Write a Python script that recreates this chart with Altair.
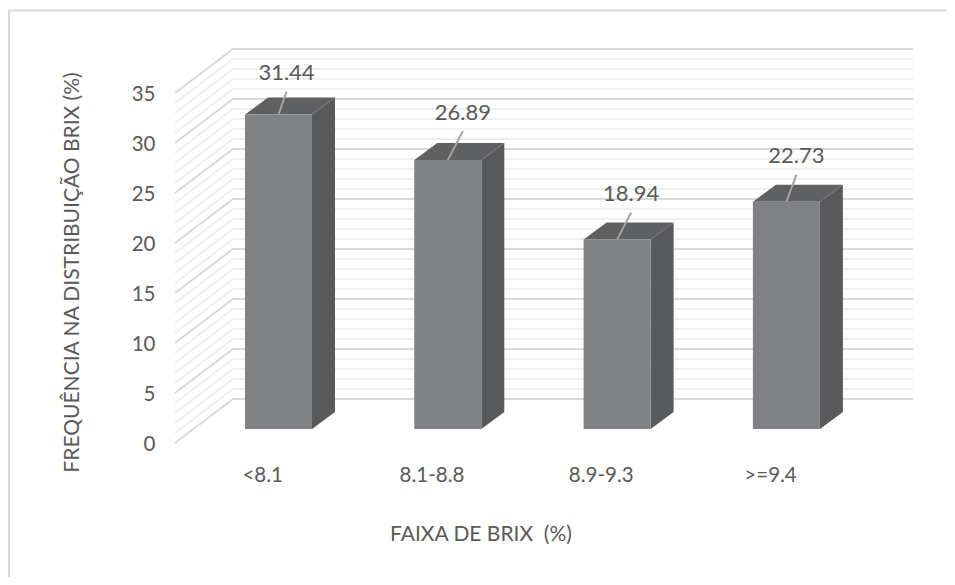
import altair as alt
import pandas as pd

categories = ["<8.1", "8.1-8.8", "8.9-9.3", ">=9.4"]
values = [31.44, 26.89, 18.94, 22.73]
ticks = [0, 5, 10, 15, 20, 25, 30, 35]
grid_values = list(range(0, 36))
leader_dx = [8, 15, 14, 10]
leader_rise = [2.3, 2.9, 2.7, 2.7]

# the scales run in "category slots" along x and in percent along y
SLOT = 169.3
X_MAX = 738 / SLOT
WALL_DX, WALL_DY = 58 / SLOT, 4.4
FLOOR_DX, FLOOR_DY = 18.85 / SLOT, 1.4
DEPTH_DX, DEPTH_DY = 23 / SLOT, 1.7
HALF = 33.5 / SLOT

xs = alt.Scale(domain=[0, X_MAX], range=[0, 738], nice=False, zero=False)
ys = alt.Scale(domain=[0, 39.5], range=[395, 0], nice=False, zero=False)

GRAY = "#595959"
FONT = "Lato"

wall = []
for v in grid_values:
    kind = "major" if v % 5 == 0 else "minor"
    wall += [
        {"id": v, "ord": 0, "x": 0, "y": v, "kind": kind},
        {"id": v, "ord": 1, "x": WALL_DX, "y": v + WALL_DY, "kind": kind},
        {"id": v, "ord": 2, "x": X_MAX, "y": v + WALL_DY, "kind": kind},
    ]
wall = pd.DataFrame(wall)

wall_layer = alt.Chart(wall).mark_line(strokeWidth=2, clip=False).encode(
    x=alt.X("x:Q", scale=xs, axis=None),
    y=alt.Y("y:Q", scale=ys, axis=alt.Axis(
        values=ticks, grid=False, domain=False, ticks=False, labelPadding=20,
        labelFont=FONT, labelFontSize=20.5, labelColor=GRAY, labelOffset=1,
        labelFlush=False, title="FREQUÊNCIA NA DISTRIBUIÇÃO BRIX (%)",
        titleFont=FONT, titleFontSize=21, titleFontWeight="normal", titleColor=GRAY,
        titleX=-93, titleY=224, titleAlign="center", titleAnchor="middle")),
    order="ord:Q",
    detail="id:N",
    color=alt.Color("kind:N", scale=alt.Scale(domain=["major", "minor"], range=["#d9d9d9", "#efefef"]), legend=None),
)

front, top, side, leader = [], [], [], []
labels = []
for i, (c, v) in enumerate(zip(categories, values)):
    cx = i + 0.5 + FLOOR_DX
    x0, x1 = cx - HALF, cx + HALF
    b = FLOOR_DY
    t = v + FLOOR_DY
    front.append({"x": x0, "x2": x1, "y": b, "y2": t})
    top += [
        {"id": i, "y": t, "x": x0, "x2": x1},
        {"id": i, "y": t + DEPTH_DY, "x": x0 + DEPTH_DX, "x2": x1 + DEPTH_DX},
    ]
    side += [
        {"id": i, "x": x1, "y": b, "y2": t},
        {"id": i, "x": x1 + DEPTH_DX, "y": b + DEPTH_DY, "y2": t + DEPTH_DY},
    ]
    leader += [
        {"id": i, "x": cx, "y": t},
        {"id": i, "x": cx + leader_dx[i] / SLOT, "y": t + leader_rise[i]},
    ]
    labels.append({"x": cx + leader_dx[i] / SLOT, "y": t + leader_rise[i] + 1.85, "t": f"{v:.2f}"})

front_layer = alt.Chart(pd.DataFrame(front)).mark_rect(color="#808184").encode(
    x=alt.X("x:Q", scale=xs), x2="x2:Q", y=alt.Y("y:Q", scale=ys), y2="y2:Q")
top_layer = alt.Chart(pd.DataFrame(top)).mark_area(color="#5f6062", orient="horizontal").encode(
    y=alt.Y("y:Q", scale=ys), x=alt.X("x:Q", scale=xs), x2="x2:Q", detail="id:N")
side_layer = alt.Chart(pd.DataFrame(side)).mark_area(color="#58595b", orient="vertical").encode(
    x=alt.X("x:Q", scale=xs), y=alt.Y("y:Q", scale=ys), y2="y2:Q", detail="id:N")
leader_layer = alt.Chart(pd.DataFrame(leader)).mark_line(color="#a3a3a3", strokeWidth=2).encode(
    x=alt.X("x:Q", scale=xs), y=alt.Y("y:Q", scale=ys), detail="id:N")
label_layer = alt.Chart(pd.DataFrame(labels)).mark_text(
    font=FONT, fontSize=22, color=GRAY, baseline="middle").encode(
    x=alt.X("x:Q", scale=xs), y=alt.Y("y:Q", scale=ys), text="t:N")

cat_df = pd.DataFrame({"c": categories, "x": [i + 0.5 for i in range(4)]})
cat_layer = alt.Chart(cat_df).mark_text(
    font=FONT, fontSize=20.5, color=GRAY, baseline="middle", dx=3).encode(
    x=alt.X("x:Q", scale=xs), y=alt.value(428), text="c:N")

title_layer = alt.Chart(pd.DataFrame({"t": ["FAIXA DE BRIX\u00a0\u00a0(%)"]})).mark_text(
    font=FONT, fontSize=21, color=GRAY, baseline="middle").encode(
    x=alt.value(306), y=alt.value(487), text="t:N")

# outer chart frame: top and left edges only
frame_color = "#d9d9d9"
one = pd.DataFrame({"a": [0]})
fr_top = alt.Chart(one).mark_rule(color=frame_color, strokeWidth=2).encode(
    x=alt.value(-167), x2=alt.value(772), y=alt.value(-37.5))
fr_left = alt.Chart(one).mark_rule(color=frame_color, strokeWidth=2).encode(
    x=alt.value(-166), y=alt.value(-37.5), y2=alt.value(529))

chart = alt.layer(
    wall_layer, fr_top, fr_left, side_layer, top_layer, front_layer,
    leader_layer, label_layer, cat_layer, title_layer,
).properties(
    width=738, height=395,
    padding={"left": 167, "top": 40, "right": 34, "bottom": 134},
    autosize=alt.AutoSizeParams(type="none"),
).configure_view(stroke=None)

chart.save("out.html", embed_options={"renderer": "svg", "actions": False})
